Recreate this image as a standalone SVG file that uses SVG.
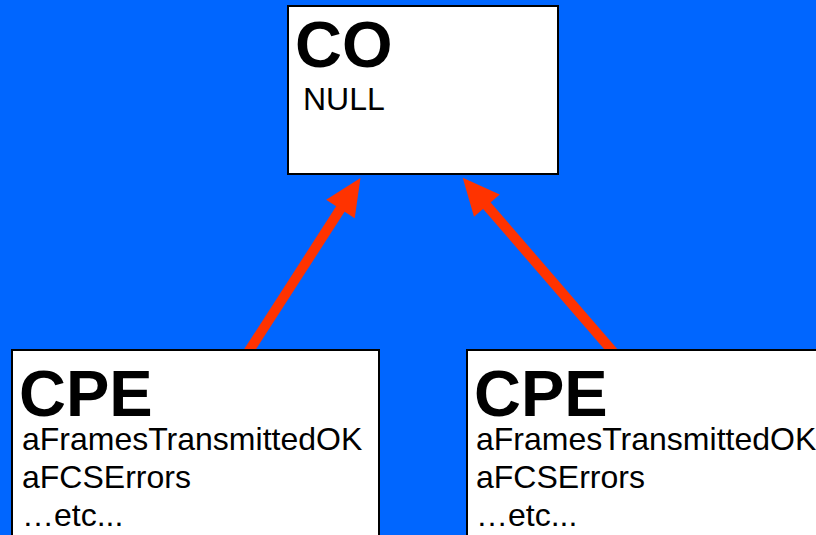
<svg xmlns="http://www.w3.org/2000/svg" width="816" height="535" viewBox="0 0 816 535">
  <style>
    .box { fill: #ffffff; stroke: #000000; stroke-width: 2; }
    .title { font-family: "Liberation Sans", Arimo, Helvetica, sans-serif; font-weight: bold; font-size: 65px; fill: #000000; }
    .attr { font-family: "Liberation Sans", Arimo, Helvetica, sans-serif; font-size: 32px; fill: #000000; }
    .link { stroke: #ff3300; stroke-width: 10; fill: none; marker-end: url(#head); }
  </style>
  <defs>
    <marker id="head" markerUnits="userSpaceOnUse" markerWidth="38" markerHeight="36" refX="2" refY="17" orient="auto" overflow="visible">
      <path d="M0,0 L37,17 L0,34 Z" fill="#ff3300"/>
    </marker>
  </defs>

  <rect width="816" height="535" fill="#0066ff"/>

  <!-- connectors: each CPE points up to the CO -->
  <g id="connectors">
    <line class="link" x1="247" y1="354" x2="341.5" y2="207.3"/>
    <line class="link" x1="615" y1="354" x2="485.6" y2="204.2"/>
  </g>

  <g id="co">
    <rect class="box" x="288" y="6" width="270" height="168"/>
    <text class="title" x="295" y="67">CO</text>
    <text class="attr" x="303" y="110">NULL</text>
  </g>

  <g id="cpe-left">
    <rect class="box" x="12" y="350" width="367" height="200"/>
    <text class="title" x="19" y="416">CPE</text>
    <text class="attr" x="22" y="450">aFramesTransmittedOK</text>
    <text class="attr" x="22" y="488">aFCSErrors</text>
    <text class="attr" x="22" y="526">…etc...</text>
  </g>

  <g id="cpe-right">
    <rect class="box" x="467" y="350" width="360" height="200"/>
    <text class="title" x="474" y="416">CPE</text>
    <text class="attr" x="476" y="450">aFramesTransmittedOK</text>
    <text class="attr" x="476" y="488">aFCSErrors</text>
    <text class="attr" x="476" y="526">…etc...</text>
  </g>
</svg>
